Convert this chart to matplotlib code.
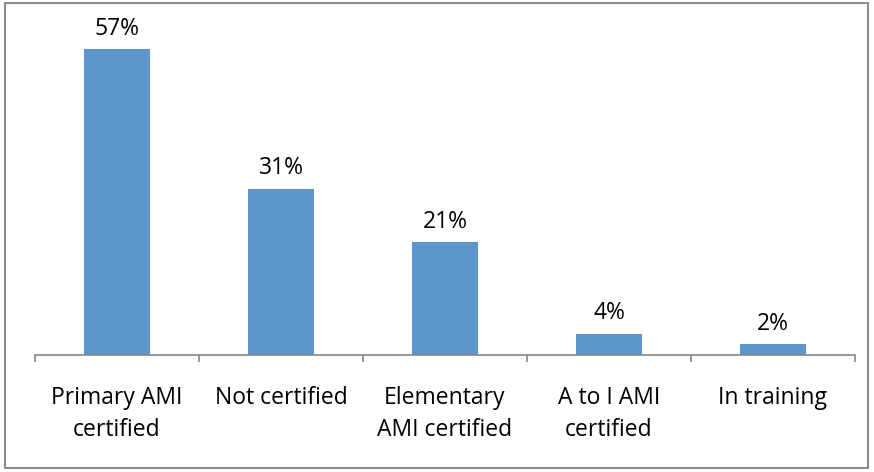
import matplotlib
matplotlib.use("Agg")
import matplotlib.pyplot as plt
from matplotlib.patches import Rectangle

categories = ["Primary AMI\ncertified", "Not certified", "Elementary\nAMI certified", "A to I AMI\ncertified", "In training"]
values = [57, 31, 21, 4, 2]
value_labels = ["57%", "31%", "21%", "4%", "2%"]

plt.rcParams['font.family'] = ['Open Sans', 'DejaVu Sans']

fig = plt.figure(figsize=(8.74, 4.72), dpi=100)
ax = fig.add_axes([35/874, 1-355/472, (855-35)/874, (355-33)/472])

x = list(range(len(values)))
ax.bar(x, values, width=0.4, color='#5E95CB', zorder=2)
for xi, v, lab in zip(x, values, value_labels):
    ax.annotate(lab, (xi, v), xytext=(0, 6), textcoords='offset points',
                ha='center', va='bottom', fontsize=16.5, color='#000000')

ax.set_xlim(-0.5, len(values) - 0.5)
ax.set_ylim(0, 60)
for s in ['left', 'right', 'top']:
    ax.spines[s].set_visible(False)
ax.spines['bottom'].set_color('#868686')
ax.spines['bottom'].set_linewidth(1.2)
ax.set_yticks([])
ax.set_xticks(x)
ax.set_xticklabels(categories, fontsize=16.5, linespacing=1.45)
ax.set_xticks([i - 0.5 for i in range(len(values) + 1)], minor=True)
ax.tick_params(axis='x', which='major', length=0, pad=22)
ax.tick_params(axis='x', which='minor', length=5, width=1.2, color='#868686', direction='out')

fig.patches.append(Rectangle((5/874, 1-468/472), (868-5)/874, (468-3)/472,
                             transform=fig.transFigure, fill=False,
                             edgecolor='#8C8C8C', linewidth=1.5))

fig.savefig('out.png', dpi=100)
